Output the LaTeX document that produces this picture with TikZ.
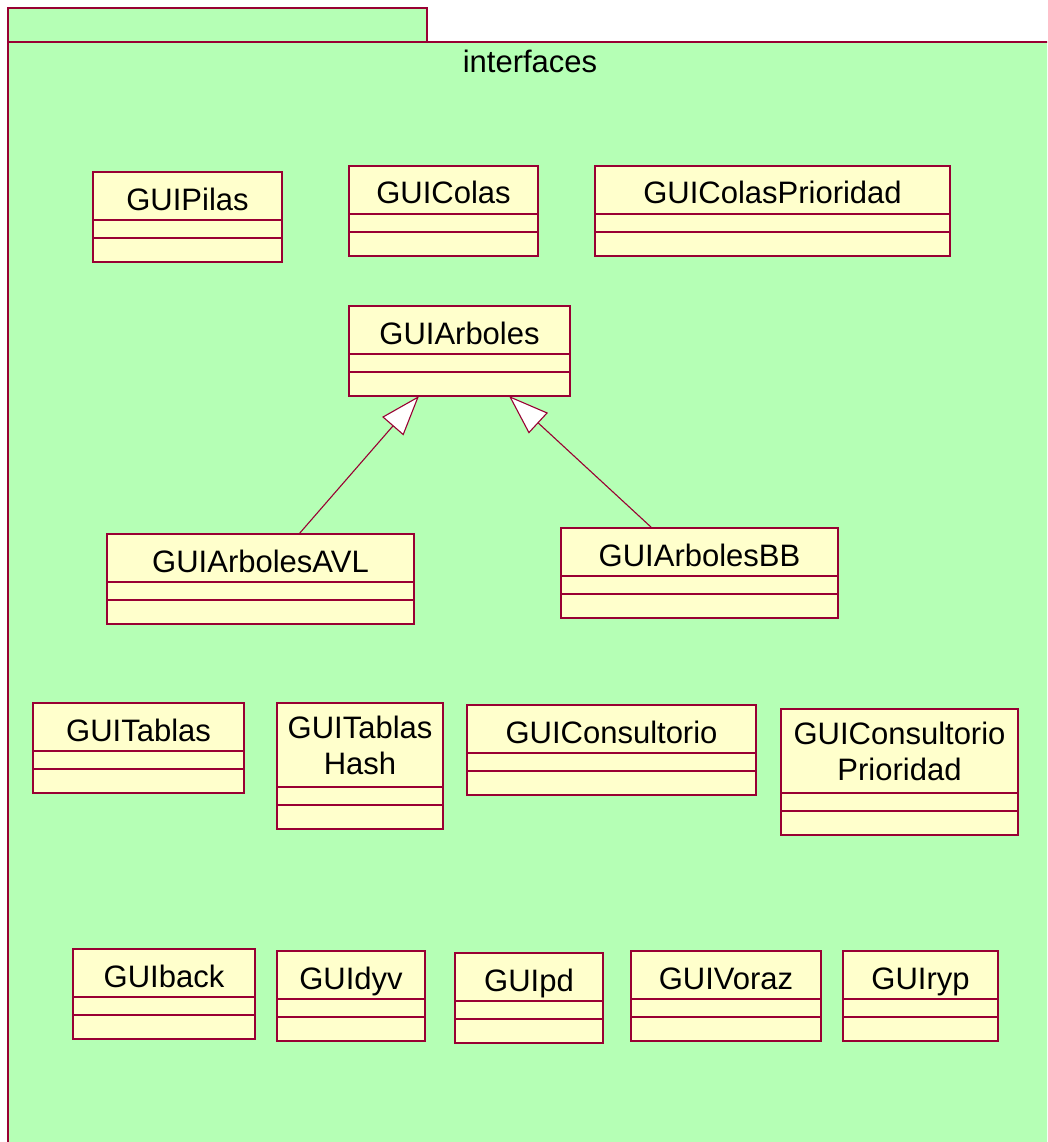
\documentclass[tikz,border=0pt]{standalone}
\usepackage{fontspec}
\setmainfont{Liberation Sans}
\usetikzlibrary{positioning,arrows.meta}

\definecolor{umlborder}{RGB}{153,0,51}
\definecolor{pkggreen}{RGB}{181,255,181}
\definecolor{classyellow}{RGB}{255,255,204}

\tikzset{
  pkg/.style={draw=umlborder, fill=pkggreen, line width=1.6pt},
  classname/.style={draw=umlborder, fill=classyellow, line width=1.6pt,
    anchor=north west, inner sep=0pt, outer sep=0pt, align=center,
    text height=28pt, text depth=0pt,
    font=\fontsize{31}{36}\selectfont},
  twolines/.style={text height=, text depth=, yshift=0pt},
  classrest/.style={draw=umlborder, fill=classyellow, line width=1.6pt,
    inner sep=0pt, outer sep=0pt, minimum height=42pt},
  classline/.style={draw=umlborder, line width=1.6pt},
  inherit/.style={draw=umlborder, line width=1.1pt,
    -{Triangle[length=40pt, width=28pt, fill=white]}}
}

% [options], name, top left, width, height of name part, text
\newcommand{\umlclass}[6][]{%
  \node[classname, minimum width=#4pt, minimum height=#5pt, #1] (#2) at (#3) {#6};
  \node[classrest, minimum width=#4pt, below=0pt of #2] (#2-ops) {};
  \draw[classline] ([yshift=-18pt]#2-ops.north west) -- ([yshift=-18pt]#2-ops.north east);
}

\begin{document}
\begin{tikzpicture}[x=1pt,y=-1pt]
\useasboundingbox (0,0) rectangle (1047,1142);
\clip (0,0) rectangle (1047,1142);

% package
\draw[pkg] (8,8) rectangle (427,42);
\draw[pkg] (8,42) rectangle (1080,1180);
\node[anchor=base, font=\fontsize{31}{36}\selectfont] (pkgname) at (530,73) {interfaces};

% classes
\umlclass{pilas}{93,172}{189}{48}{GUIPilas}
\umlclass{colas}{349,166}{189}{48}{GUIColas}
\umlclass{colasprio}{595,166}{355}{48}{GUIColasPrioridad}

\umlclass{arboles}{349,306}{221}{48}{GUIArboles}
\umlclass{arbolesavl}{107,534}{307}{48}{GUIArbolesAVL}
\umlclass{arbolesbb}{561,528}{277}{48}{GUIArbolesBB}

\umlclass{tablas}{33,703}{211}{48}{GUITablas}
\umlclass[twolines]{tablashash}{277,703}{166}{84}{GUITablas\\Hash}
\umlclass{consultorio}{467,705}{289}{48}{GUIConsultorio}
\umlclass[twolines]{consultprio}{781,709}{237}{84}{GUIConsultorio\\Prioridad}

\umlclass{back}{73,949}{182}{48}{GUIback}
\umlclass{dyv}{277,951}{148}{48}{GUIdyv}
\umlclass{pd}{455,953}{148}{48}{GUIpd}
\umlclass{voraz}{631,951}{190}{48}{GUIVoraz}
\umlclass{ryp}{843,951}{155}{48}{GUIryp}

% generalizations
\draw[inherit] ([xshift=192pt]arbolesavl.north west) -- ([xshift=70pt]arboles-ops.south west);
\draw[inherit] ([xshift=91pt]arbolesbb.north west) -- ([xshift=160pt]arboles-ops.south west);

\end{tikzpicture}
\end{document}
